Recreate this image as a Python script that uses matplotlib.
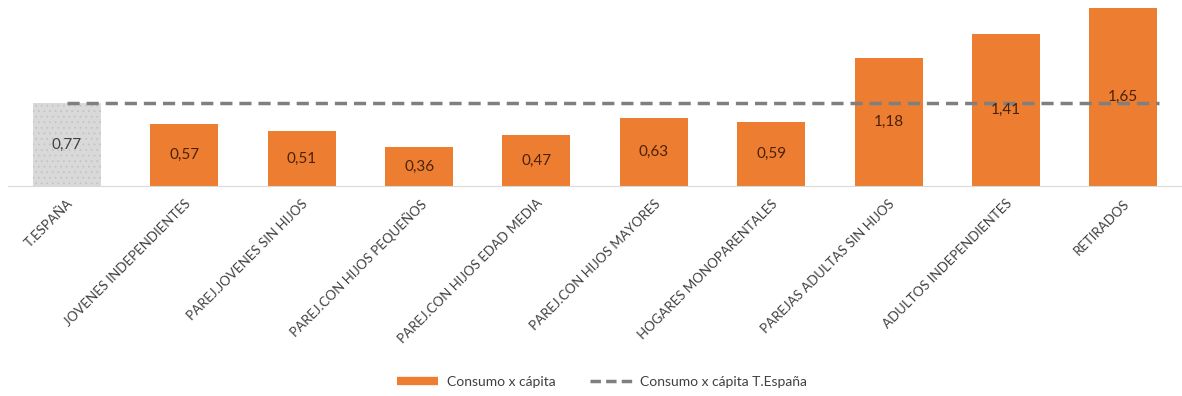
import numpy as np
import matplotlib.pyplot as plt
from matplotlib.lines import Line2D

plt.rcParams['font.family'] = ['Lato', 'DejaVu Sans']
plt.rcParams['hatch.linewidth'] = 0.6

categorias = ["T.ESPAÑA", "JOVENES INDEPENDIENTES", "PAREJ.JOVENES SIN HIJOS",
              "PAREJ.CON HIJOS PEQUEÑOS", "PAREJ.CON HIJOS EDAD MEDIA",
              "PAREJ.CON HIJOS MAYORES", "HOGARES MONOPARENTALES",
              "PAREJAS ADULTAS SIN HIJOS", "ADULTOS INDEPENDIENTES", "RETIRADOS"]
consumo = [0.77, 0.57, 0.51, 0.36, 0.47, 0.63, 0.59, 1.18, 1.41, 1.65]
media_espana = 0.77

naranja = '#ED7D31'
gris_barra = '#d9d9d9'
gris_linea = '#7f7f7f'

fig = plt.figure(figsize=(11.82, 3.96), dpi=100)
ax = fig.add_axes([0.007, 0.53, 0.993, 0.47])

x = np.arange(len(categorias))
bars = ax.bar(x, consumo, width=0.58, color=naranja, linewidth=0, zorder=2)
bars[0].set_facecolor(gris_barra)
bars[0].set_hatch('...')
bars[0].set_edgecolor('#c4c4c4')

ax.plot([x[0], x[-1] + 0.3], [media_espana, media_espana], color=gris_linea,
        linestyle=(0, (3.5, 2)), linewidth=2.5, zorder=3)

for i, v in enumerate(consumo):
    col = '#404040' if i == 0 else '#4a2208'
    ax.text(x[i], v / 2, ('%.2f' % v).replace('.', ','), ha='center', va='center',
            fontsize=11, color=col, zorder=4)

ax.set_xlim(-0.5, len(categorias) - 0.5)
ax.set_ylim(0, 1.72)
ax.set_xticks(x)
ax.set_xticklabels(categorias, rotation=45, ha='right', rotation_mode='anchor',
                   fontsize=9.5, color='#404040')
ax.tick_params(axis='x', length=0, pad=8)
ax.set_yticks([])
for s in ['top', 'right', 'left']:
    ax.spines[s].set_visible(False)
ax.spines['bottom'].set_color('#d9d9d9')

handles = [Line2D([0], [0], color=naranja, lw=6, solid_capstyle='butt'),
           Line2D([0], [0], color=gris_linea, lw=2.5, linestyle=(0, (3, 1.5)))]
fig.legend(handles, ['Consumo x cápita', 'Consumo x cápita T.España'],
           loc='center', bbox_to_anchor=(0.509, 0.035), ncol=2, frameon=False,
           fontsize=10, handlelength=3.0, handletextpad=0.6, columnspacing=2.5,
           labelcolor='#404040')

fig.savefig('out.png', dpi=100)
